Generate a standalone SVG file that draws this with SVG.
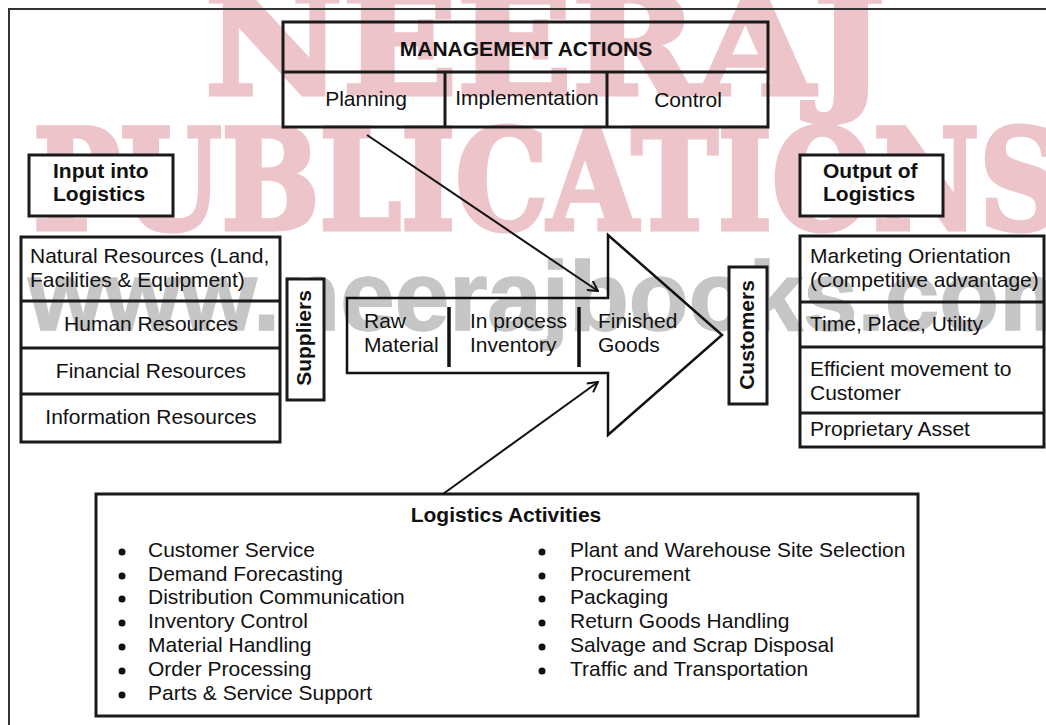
<svg xmlns="http://www.w3.org/2000/svg" width="1046" height="725" viewBox="0 0 1046 725">
<style>
.t{font-family:"Liberation Sans",Arial,sans-serif;font-size:21px;fill:#111}
.b{font-weight:bold}
.m{text-anchor:middle}
.box{fill:none;stroke:#1a1a1a;stroke-width:3}
.wbox{fill:#fff;stroke:#1a1a1a;stroke-width:3}
.wm{font-family:"DejaVu Serif",serif;font-weight:bold;font-size:138px;fill:#edc4c9;stroke:#edc4c9;stroke-width:5;stroke-linejoin:miter}
.wg{font-family:"Liberation Sans",Arial,sans-serif;font-weight:bold;font-size:98px;fill:#c6c6c6;stroke:#c6c6c6;stroke-width:1.5}
.con{fill:none;stroke:#111;stroke-width:2}
</style>
<defs>
<marker id="ah" viewBox="0 0 12 12" refX="11" refY="6" markerWidth="12" markerHeight="12" markerUnits="userSpaceOnUse" orient="auto">
<path d="M1,0.5 L11,6 L1,11.5" fill="none" stroke="#111" stroke-width="2"/>
</marker>
</defs>
<rect x="0" y="0" width="1046" height="725" fill="#fff"/>
<g id="watermark">
<text class="wm" x="205" y="94" textLength="680" lengthAdjust="spacingAndGlyphs">NEERAJ</text>
<text class="wm" x="33" y="229" textLength="1030" lengthAdjust="spacingAndGlyphs">PUBLICATIONS</text>
<text class="wg" x="28" y="330">www.neerajbooks.com</text>
</g>
<g id="frame">
<path d="M9,725 L9,9 L1046,9" fill="none" stroke="#333" stroke-width="2"/>
</g>
<g id="management">
<rect class="box" x="283" y="22" width="485" height="105"/>
<line class="box" x1="283" y1="72" x2="768" y2="72"/>
<line class="box" x1="445" y1="72" x2="445" y2="127"/>
<line class="box" x1="607" y1="72" x2="607" y2="127"/>
<text class="t b m" x="526" y="56">MANAGEMENT ACTIONS</text>
<text class="t m" x="366" y="106">Planning</text>
<text class="t m" x="527" y="105">Implementation</text>
<text class="t m" x="688" y="107">Control</text>
</g>
<g id="input-label">
<rect class="wbox" x="29" y="155" width="144" height="61"/>
<text class="t b" x="53" y="178">Input into</text>
<text class="t b" x="53" y="201">Logistics</text>
</g>
<g id="output-label">
<rect class="wbox" x="800" y="155" width="143" height="61"/>
<text class="t b" x="823" y="178">Output of</text>
<text class="t b" x="823" y="201">Logistics</text>
</g>
<g id="inputs">
<rect class="box" x="21" y="237" width="259" height="205"/>
<line class="box" x1="21" y1="301" x2="280" y2="301"/>
<line class="box" x1="21" y1="348" x2="280" y2="348"/>
<line class="box" x1="21" y1="394" x2="280" y2="394"/>
<text class="t" x="30" y="263">Natural Resources (Land,</text>
<text class="t" x="30" y="287">Facilities &amp; Equipment)</text>
<text class="t m" x="151" y="331">Human Resources</text>
<text class="t m" x="151" y="378">Financial Resources</text>
<text class="t m" x="151" y="424">Information Resources</text>
</g>
<g id="suppliers">
<rect class="wbox" x="287" y="279" width="37" height="121"/>
<text class="t b m" transform="translate(311,338) rotate(-90)" x="0" y="0">Suppliers</text>
</g>
<g id="flow">
<path d="M347,298 L608,298 L608,235 L722,335 L608,435 L608,373 L347,373 Z" fill="none" stroke="#111" stroke-width="2.5"/>
<line x1="449" y1="307" x2="449" y2="367" stroke="#111" stroke-width="3.5"/>
<line x1="579" y1="307" x2="579" y2="367" stroke="#111" stroke-width="3.5"/>
<text class="t" x="364" y="328">Raw</text>
<text class="t" x="364" y="352">Material</text>
<text class="t" x="470" y="328">In process</text>
<text class="t" x="470" y="352">Inventory</text>
<text class="t" x="598" y="328">Finished</text>
<text class="t" x="598" y="352">Goods</text>
</g>
<g id="customers">
<rect class="wbox" x="729" y="267" width="38" height="137"/>
<text class="t b m" transform="translate(754,335) rotate(-90)" x="0" y="0">Customers</text>
</g>
<g id="outputs">
<rect class="box" x="800" y="236" width="244" height="211"/>
<line class="box" x1="800" y1="302" x2="1044" y2="302"/>
<line class="box" x1="800" y1="347" x2="1044" y2="347"/>
<line class="box" x1="800" y1="413" x2="1044" y2="413"/>
<text class="t" x="810" y="263">Marketing Orientation</text>
<text class="t" x="810" y="287">(Competitive advantage)</text>
<text class="t" x="810" y="331">Time, Place, Utility</text>
<text class="t" x="810" y="376">Efficient movement to</text>
<text class="t" x="810" y="400">Customer</text>
<text class="t" x="810" y="436">Proprietary Asset</text>
</g>
<g id="activities">
<rect class="box" x="96" y="494" width="822" height="222"/>
<text class="t b m" x="506" y="522">Logistics Activities</text>
<g fill="#111">
<circle cx="122" cy="552" r="3.5"/><circle cx="122" cy="576" r="3.5"/><circle cx="122" cy="599" r="3.5"/><circle cx="122" cy="623" r="3.5"/><circle cx="122" cy="647" r="3.5"/><circle cx="122" cy="671" r="3.5"/><circle cx="122" cy="695" r="3.5"/>
<circle cx="542" cy="552" r="3.5"/><circle cx="542" cy="576" r="3.5"/><circle cx="542" cy="599" r="3.5"/><circle cx="542" cy="623" r="3.5"/><circle cx="542" cy="647" r="3.5"/><circle cx="542" cy="671" r="3.5"/>
</g>
<text class="t" x="148" y="557">Customer Service</text>
<text class="t" x="148" y="581">Demand Forecasting</text>
<text class="t" x="148" y="604">Distribution Communication</text>
<text class="t" x="148" y="628">Inventory Control</text>
<text class="t" x="148" y="652">Material Handling</text>
<text class="t" x="148" y="676">Order Processing</text>
<text class="t" x="148" y="700">Parts &amp; Service Support</text>
<text class="t" x="570" y="557">Plant and Warehouse Site Selection</text>
<text class="t" x="570" y="581">Procurement</text>
<text class="t" x="570" y="604">Packaging</text>
<text class="t" x="570" y="628">Return Goods Handling</text>
<text class="t" x="570" y="652">Salvage and Scrap Disposal</text>
<text class="t" x="570" y="676">Traffic and Transportation</text>
</g>
<g id="connectors">
<line class="con" x1="367" y1="135" x2="598" y2="291" marker-end="url(#ah)"/>
<line class="con" x1="443" y1="494" x2="598" y2="382" marker-end="url(#ah)"/>
</g>
</svg>
